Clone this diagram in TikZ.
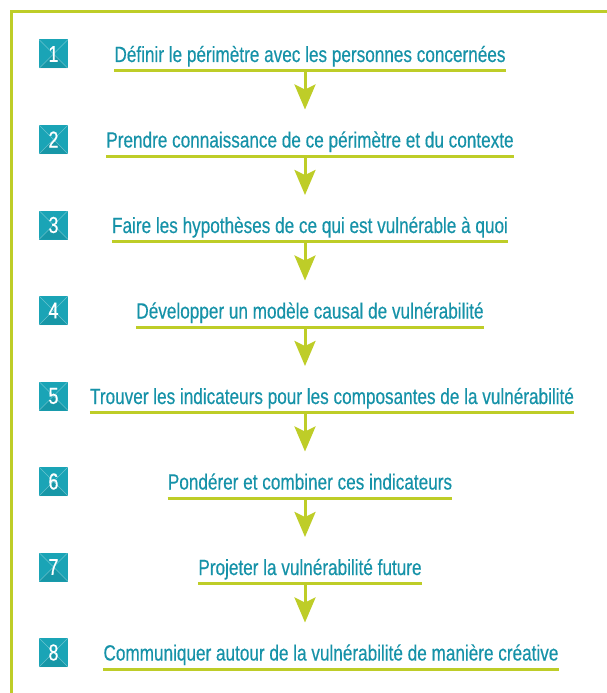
\documentclass[tikz,border=0pt]{standalone}
\usepackage{fontspec}
\setmainfont{Liberation Sans}[FakeStretch=0.78,FakeBold=0.4]
\usepackage{tikz}
\usetikzlibrary{arrows.meta}
\definecolor{VulnTeal}{RGB}{22,146,168}
\definecolor{VulnBox}{RGB}{26,164,182}
\definecolor{VulnGreen}{RGB}{190,205,40}

\begin{document}
\begin{tikzpicture}[x=1pt,y=-1pt,
   steptext/.style={font=\fontsize{22}{22}\selectfont,text=VulnTeal,inner sep=0pt,anchor=base},
   numbox/.style={rectangle,minimum width=29pt,minimum height=29pt,inner sep=0pt,fill=VulnBox,text=white,font=\fontsize{23}{23}\selectfont,
      path picture={\fill[black,opacity=0.08] (path picture bounding box.south west) -- (path picture bounding box.center) -- (path picture bounding box.south east) -- cycle;
         \draw[white,opacity=0.35,line width=0.5pt] (path picture bounding box.north west) -- (path picture bounding box.south east)
            (path picture bounding box.north east) -- (path picture bounding box.south west);}},
   uline/.style={VulnGreen,line width=3pt},
   flowarrow/.style={VulnGreen,line width=3pt,-{Stealth[length=25pt,width=21pt,inset=5pt]}}]
\useasboundingbox (0,0) rectangle (607,693);
% frame
\draw[VulnGreen,line width=3pt] (11.5,693) -- (11.5,12) -- (607,12);
\foreach \n/\xc/\txt in %
{1/310/Définir le périmètre avec les personnes concernées,
 2/310/Prendre connaissance de ce périmètre et du contexte,
 3/310/Faire les hypothèses de ce qui est vulnérable à quoi,
 4/310/Développer un modèle causal de vulnérabilité,
 5/332/Trouver les indicateurs pour les composantes de la vulnérabilité,
 6/310/Pondérer et combiner ces indicateurs,
 7/310/Projeter la vulnérabilité future,
 8/331/Communiquer autour de la vulnérabilité de manière créative} {
   \pgfmathsetmacro\y{62+85.5*(\n-1)}
   \node[steptext] (s\n) at (\xc,\y) {\txt};
   \node[numbox] (n\n) at (53.5,\y-8) {\n};
   \draw[uline] ([yshift=-8.5pt]s\n.base west) -- ([yshift=-8.5pt]s\n.base east);
   \coordinate (u\n) at (305,\y+8.5);
   \coordinate (a\n) at (305,\y+47.5);
}
\foreach \n in {1,...,7} {
   \draw[flowarrow] (u\n) -- (a\n);
}
\end{tikzpicture}
\end{document}
